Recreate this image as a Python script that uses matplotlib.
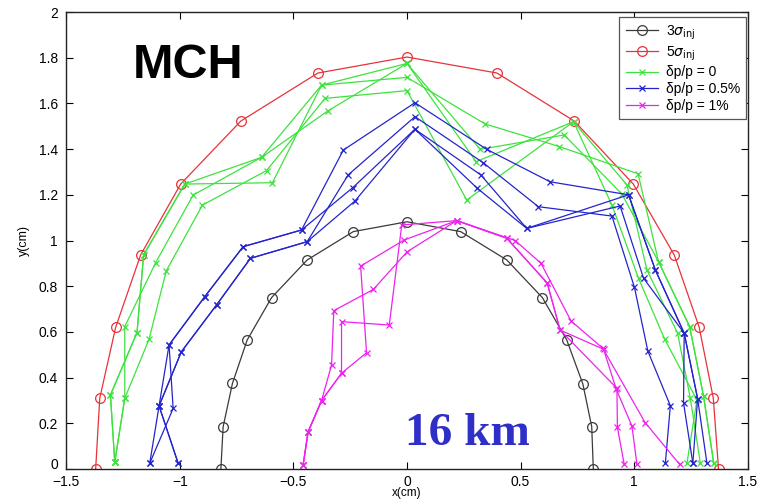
import matplotlib
matplotlib.use("Agg")
import matplotlib.pyplot as plt
from matplotlib.transforms import ScaledTranslation

plt.rcParams['font.family'] = ['Liberation Sans', 'DejaVu Sans']
plt.rcParams['mathtext.fontset'] = 'dejavusans'

# Injection beam envelopes (cm)
sig3_x = [-0.819, -0.809, -0.768, -0.703, -0.596, -0.439, -0.236, 0.0,
          0.236, 0.439, 0.596, 0.703, 0.774, 0.813, 0.820]
sig3_y = [0.0, 0.185, 0.375, 0.565, 0.750, 0.915, 1.039, 1.082,
          1.039, 0.915, 0.750, 0.565, 0.372, 0.185, 0.0]
sig5_x = [-1.370, -1.352, -1.282, -1.172, -0.996, -0.731, -0.392, 0.0,
          0.396, 0.736, 0.996, 1.176, 1.286, 1.348, 1.371]
sig5_y = [0.0, 0.310, 0.620, 0.937, 1.247, 1.523, 1.733, 1.803,
          1.733, 1.523, 1.247, 0.937, 0.620, 0.310, 0.0]

# Dynamic aperture, dp/p = 0 (one track per seed)
dp0_seeds = [
    ([-1.286, -1.305, -1.188, -1.159, -0.978, -0.592, -0.376, 0.0, 0.344, 0.671, 1.017, 1.107, 1.244, 1.305, 1.350],
     [0.030, 0.324, 0.597, 0.937, 1.247, 1.253, 1.680, 1.714, 1.510, 1.411, 1.292, 0.907, 0.623, 0.319, 0.025]),
    ([-1.286, -1.242, -1.242, -1.106, -0.941, -0.640, -0.347, 0.0, 0.304, 0.733, 0.968, 1.056, 1.191, 1.247, 1.291],
     [0.030, 0.309, 0.623, 0.903, 1.199, 1.364, 1.568, 1.775, 1.345, 1.520, 1.243, 0.871, 0.594, 0.309, 0.025]),
    ([-1.286, -1.242, -1.135, -1.059, -0.900, -0.618, -0.361, 0.0, 0.263, 0.733, 0.902, 1.019, 1.134, 1.276, 1.232],
     [0.030, 0.309, 0.568, 0.868, 1.155, 1.306, 1.622, 1.656, 1.177, 1.520, 1.155, 0.835, 0.568, 0.302, 0.025]),
    ([-1.286, -1.305, -1.188, -1.159, -0.978, -0.640, -0.376, 0.0, 0.322, 0.692, 0.946, 1.107, 1.244, 1.305, 1.350],
     [0.030, 0.324, 0.597, 0.937, 1.247, 1.364, 1.680, 1.775, 1.399, 1.462, 1.203, 0.907, 0.623, 0.319, 0.025]),
]

# Dynamic aperture, dp/p = 0.5%
dp05_seeds = [
    ([-1.132, -1.029, -1.047, -0.890, -0.721, -0.464, -0.280, 0.035, 0.351, 0.630, 0.975, 1.093, 1.220, 1.279, 1.320],
     [0.025, 0.265, 0.543, 0.754, 0.973, 1.046, 1.396, 1.603, 1.399, 1.257, 1.200, 0.871, 0.594, 0.308, 0.025]),
    ([-1.007, -1.091, -0.993, -0.838, -0.689, -0.439, -0.259, 0.035, 0.336, 0.578, 0.902, 1.001, 1.060, 1.159, 1.137],
     [0.025, 0.276, 0.513, 0.718, 0.922, 0.995, 1.287, 1.542, 1.340, 1.148, 1.107, 0.795, 0.516, 0.277, 0.025]),
    ([-1.132, -1.091, -1.047, -0.890, -0.721, -0.464, -0.239, 0.035, 0.310, 0.527, 0.938, 1.041, 1.220, 1.217, 1.258],
     [0.025, 0.276, 0.543, 0.754, 0.973, 1.046, 1.231, 1.487, 1.228, 1.053, 1.151, 0.835, 0.594, 0.290, 0.025]),
    ([-1.007, -1.091, -0.993, -0.838, -0.689, -0.439, -0.229, 0.035, 0.325, 0.527, 0.975, 1.093, 1.220, 1.279, 1.258],
     [0.025, 0.276, 0.513, 0.718, 0.922, 0.995, 1.173, 1.487, 1.287, 1.053, 1.200, 0.871, 0.594, 0.308, 0.025]),
]

# Dynamic aperture, dp/p = 1%
dp1_seeds = [
    ([-0.457, -0.435, -0.376, -0.332, -0.322, -0.148, 0.001, 0.219, 0.439, 0.617, 0.674, 0.865, 0.921, 0.990, 1.012],
     [0.018, 0.163, 0.299, 0.455, 0.693, 0.786, 0.951, 1.087, 1.010, 0.814, 0.608, 0.524, 0.349, 0.188, 0.020]),
    ([-0.457, -0.435, -0.376, -0.288, -0.288, -0.078, -0.023, 0.219, 0.476, 0.590, 0.722, 0.862, 1.048, 1.200],
     [0.018, 0.163, 0.299, 0.419, 0.645, 0.630, 1.068, 1.087, 1.000, 0.900, 0.648, 0.528, 0.203, 0.020]),
    ([-0.457, -0.435, -0.376, -0.288, -0.178, -0.204, -0.013, 0.219, 0.439, 0.617, 0.674, 0.924, 0.926, 0.956],
     [0.018, 0.163, 0.299, 0.419, 0.509, 0.888, 1.002, 1.087, 1.010, 0.814, 0.608, 0.353, 0.182, 0.020]),
]

x_ticks = [-1.5, -1, -0.5, 0, 0.5, 1, 1.5]
x_ticklabels = ['\u22121.5', '\u22121', '\u22120.5', '0', '0.5', '1', '1.5']
y_ticks = [0, 0.2, 0.4, 0.6, 0.8, 1, 1.2, 1.4, 1.6, 1.8, 2]
y_ticklabels = ['0', '0.2', '0.4', '0.6', '0.8', '1', '1.2', '1.4', '1.6', '1.8', '2']

C_BLACK = '#3a3a3a'
C_RED = '#e8323a'
C_GREEN = '#3ee23e'
C_BLUE = '#2424cc'
C_MAG = '#ee22ee'

fig = plt.figure(figsize=(7.6, 5.03), dpi=100)
ax = fig.add_axes([0.087, 0.0676, 0.897, 0.9085])

lw = 0.9
h3, = ax.plot(sig3_x, sig3_y, '-', color=C_BLACK, lw=lw, marker='o', ms=7,
              mfc='none', mec=C_BLACK, mew=0.9)
h5, = ax.plot(sig5_x, sig5_y, '-', color=C_RED, lw=lw, marker='o', ms=7,
              mfc='none', mec=C_RED, mew=0.9)

hg = hb = hm = None
for xs, ys in dp0_seeds:
    hg, = ax.plot(xs, ys, '-', color=C_GREEN, lw=lw, marker='x', ms=5, mew=0.9)
for xs, ys in dp05_seeds:
    hb, = ax.plot(xs, ys, '-', color=C_BLUE, lw=lw, marker='x', ms=5, mew=0.9)
for xs, ys in dp1_seeds:
    hm, = ax.plot(xs, ys, '-', color=C_MAG, lw=lw, marker='x', ms=5, mew=0.9)

ax.set_xlim(-1.5, 1.5)
ax.set_ylim(0, 2)
ax.set_xticks(x_ticks)
ax.set_xticklabels(x_ticklabels)
ax.set_yticks(y_ticks)
ax.set_yticklabels(y_ticklabels)
ax.tick_params(direction='in', top=True, right=True, length=5, width=0.8,
               labelsize=10)
ax.tick_params(axis='x', pad=4)
ax.tick_params(axis='y', pad=6)
for s in ax.spines.values():
    s.set_linewidth(1.0)
    s.set_color('#222222')

# lift the y "0" label a little so it clears the x "-1.5" label below it
zero_lbl = ax.get_yticklabels()[0]
zero_lbl.set_transform(zero_lbl.get_transform() +
                       ScaledTranslation(0, 5 / 100, fig.dpi_scale_trans))

ax.set_xlabel('x(cm)', fontsize=8.5, labelpad=-1)
ax.set_ylabel('y(cm)', fontsize=9, labelpad=6)

leg = ax.legend([h3, h5, hg, hb, hm],
                [r'3$\sigma_{\mathrm{inj}}$', r'5$\sigma_{\mathrm{inj}}$',
                 '\u03b4p/p = 0', '\u03b4p/p = 0.5%', '\u03b4p/p = 1%'],
                loc='upper right', bbox_to_anchor=(0.998, 0.989),
                borderaxespad=0.0,
                fontsize=10, frameon=True, fancybox=False, framealpha=1,
                edgecolor='#555555', handlelength=2.3, borderpad=0.45,
                labelspacing=0.2, handletextpad=0.6)
leg.get_frame().set_linewidth(0.9)

ax.text(-1.207, 1.711, 'MCH', fontsize=35, fontweight='bold', color='black',
        ha='left', va='baseline', family=['Liberation Sans', 'DejaVu Sans'])
ax.text(-0.01, 0.105, '16 km', fontsize=34, fontweight='bold', color='#2e2ec8',
        ha='left', va='baseline', family=['Liberation Serif', 'DejaVu Serif'])

fig.savefig('out.png', dpi=100)
